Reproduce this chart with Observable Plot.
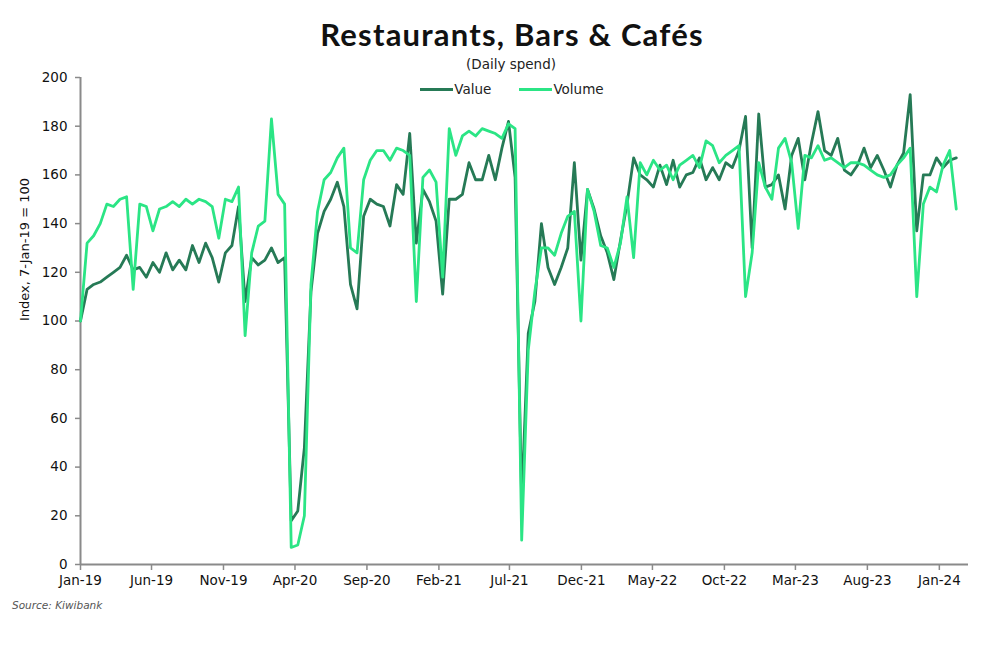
<!DOCTYPE html>
<html>
<head>
<meta charset="utf-8">
<script src="https://cdn.jsdelivr.net/npm/d3@7"></script>
<script src="https://cdn.jsdelivr.net/npm/@observablehq/plot@0.6"></script>
<style>
  html, body { margin: 0; padding: 0; background: #fff; }
  #wrap { position: relative; width: 1000px; height: 664px; font-family: "DejaVu Sans", sans-serif; color: #111; }
  #wrap svg { position: absolute; left: 0; top: 0; }
  .abs { position: absolute; white-space: nowrap; }
  #title { left: 0; width: 1024px; top: 15px; text-align: center; font-family: Lato, sans-serif; font-size: 31px; font-weight: 700; letter-spacing: 1.2px; }
  #subtitle { left: 0; width: 1022px; top: 56px; text-align: center; font-size: 13.5px; color: #222; }
  #legend { left: 0; width: 1024px; top: 81px; text-align: center; font-size: 13.5px; color: #222; }
  .sw { display: inline-block; width: 33px; height: 3px; vertical-align: middle; margin-right: 1px; position: relative; top: -1px; }
  .item { display: inline-block; margin: 0 14px; }
  #source { left: 12px; top: 599px; font-size: 10.5px; font-style: italic; color: #555; }
</style>
</head>
<body>
<div id="wrap">
  <div id="chart"></div>
  <div id="title" class="abs">Restaurants, Bars &amp; Cafés</div>
  <div id="subtitle" class="abs">(Daily spend)</div>
  <div id="legend" class="abs"></div>
  <div id="source" class="abs">Source: Kiwibank</div>
</div>
<script>
// Fortnightly readings starting 7-Jan-2019 (index, 7-Jan-19 = 100)
const startDate = "2019-01-07";
const stepDays = 14;
const seriesNames = ["Value", "Volume"];
const seriesColors = ["#267a56", "#2be585"];

const value = [
  100,113,115,116,118,120,122,127,121,122,
  118,124,120,128,121,125,121,131,124,132,
  126,116,128,131,147,108,126,123,125,130,
  124,126,18,22,48,112,136,145,150,157,
  147,115,105,143,150,148,147,139,156,152,
  177,132,154,149,141,111,150,150,152,165,
  158,158,168,158,171,182,159,26,95,108,
  140,122,115,122,130,165,125,154,146,135,
  128,117,133,148,167,160,158,155,164,156,
  166,155,160,161,167,158,163,158,165,163,
  170,184,130,185,155,156,160,146,168,175,
  158,173,186,170,168,175,162,160,164,171,
  163,168,162,155,164,169,193,137,160,160,
  167,163,166,167
];
const volume = [
  100,132,135,140,148,147,150,151,113,148,
  147,137,146,147,149,147,150,148,150,149,
  147,134,150,149,155,94,128,139,141,183,
  152,148,7,8,20,115,145,158,161,167,
  171,130,128,158,166,170,170,166,171,170,
  168,108,159,162,157,118,179,168,176,178,
  176,179,178,177,175,181,179,10,88,112,
  130,130,127,136,143,145,100,154,145,131,
  130,122,132,151,126,165,160,166,162,164,
  158,164,166,168,163,174,172,165,168,170,
  172,110,128,165,155,150,171,175,165,138,
  168,167,172,166,167,165,163,165,165,164,
  162,160,159,160,164,167,171,110,148,155,
  153,164,170,146
];
const xTickLabels = ["Jan-19","Jun-19","Nov-19","Apr-20","Sep-20","Feb-21","Jul-21","Dec-21","May-22","Oct-22","Mar-23","Aug-23","Jan-24"];
const yTicks = [0,20,40,60,80,100,120,140,160,180,200];

const start = new Date(startDate + "T00:00:00Z");
const rows = value.map((v, i) => ({
  date: d3.utcDay.offset(start, stepDays * i),
  Value: v,
  Volume: volume[i]
}));
const tickDates = xTickLabels.map((_, i) => d3.utcMonth.offset(start, 5 * i));
const end = d3.utcDay.offset(start, 1888);

const chart = Plot.plot({
  width: 1000,
  height: 664,
  marginLeft: 80,
  marginRight: 32,
  marginTop: 77,
  marginBottom: 100,
  style: { fontFamily: "'DejaVu Sans', sans-serif", fontSize: "13.5px", color: "#111", background: "transparent" },
  x: { type: "utc", domain: [start, end] },
  y: { domain: [0, 200] },
  marks: [
    Plot.axisX({ ticks: tickDates, tickFormat: (d, i) => xTickLabels[i], tickSize: 6, tickPadding: 5, stroke: "#8a8a8a", strokeWidth: 1.5, label: null, fontSize: 13.5 }),
    Plot.axisY({ ticks: yTicks, tickSize: 5, tickPadding: 8, stroke: "#8a8a8a", strokeWidth: 1.5, label: null, fontSize: 13.5 }),
    Plot.ruleY([0], { stroke: "#8a8a8a", strokeWidth: 2 }),
    Plot.ruleX([start], { stroke: "#8a8a8a", strokeWidth: 2 }),
    Plot.lineY(rows, { x: "date", y: "Value", stroke: seriesColors[0], strokeWidth: 2.8, strokeLinejoin: "round" }),
    Plot.lineY(rows, { x: "date", y: "Volume", stroke: seriesColors[1], strokeWidth: 2.8, strokeLinejoin: "round" }),
    Plot.text(["Index, 7-Jan-19 = 100"], { frameAnchor: "left", dx: -56, rotate: -90, fontSize: 13, fill: "#111" })
  ]
});
document.getElementById("chart").appendChild(chart);

const legend = document.getElementById("legend");
seriesNames.forEach((name, i) => {
  const item = document.createElement("span");
  item.className = "item";
  const sw = document.createElement("span");
  sw.className = "sw";
  sw.style.background = seriesColors[i];
  item.appendChild(sw);
  item.appendChild(document.createTextNode(name));
  legend.appendChild(item);
});
</script>
</body>
</html>
